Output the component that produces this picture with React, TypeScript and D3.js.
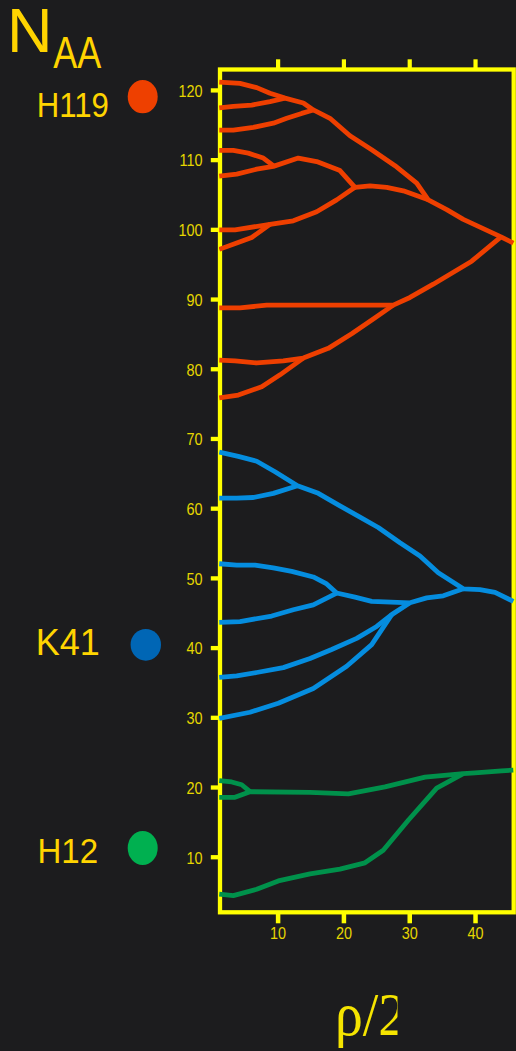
import React from 'react';
import * as d3 from 'd3';

type Pt = [number, number]; // [ρ/2, N_AA]

// H119 group branches
const h119A: Pt[] = [[1.06, 121.2], [4.21, 121.0], [6.75, 120.4], [8.77, 119.6], [11.05, 118.9], [13.83, 118.2], [15.35, 117.2], [17.88, 116.0], [20.92, 113.5], [24.22, 111.5], [27.76, 109.2], [31.06, 106.7], [32.82, 104.3], [35.62, 102.9], [38.14, 101.5], [43.87, 99.0], [45.74, 98.1]];
const h119B: Pt[] = [[1.06, 117.5], [3.19, 117.7], [5.99, 117.9], [8.77, 118.4], [11.05, 118.9]];
const h119C: Pt[] = [[1.06, 114.3], [3.19, 114.3], [6.23, 114.7], [9.27, 115.3], [11.31, 116.0], [13.58, 116.7], [15.35, 117.2]];
const h119D: Pt[] = [[1.06, 111.4], [3.19, 111.4], [5.47, 111.0], [7.75, 110.3], [9.27, 109.2]];
const h119E: Pt[] = [[1.06, 107.7], [3.71, 108.0], [6.75, 108.7], [9.27, 109.1], [13.07, 110.3], [15.86, 109.8], [19.4, 108.5], [21.68, 106.1], [23.96, 106.3], [26.5, 106.1], [29.02, 105.6], [32.82, 104.3]];
const h119F: Pt[] = [[1.06, 100.0], [3.45, 100.0], [8.77, 100.8], [12.31, 101.3], [15.86, 102.6], [18.9, 104.3], [21.68, 106.1]];
const h119G: Pt[] = [[1.06, 97.2], [3.71, 98.1], [5.99, 98.9], [8.77, 100.8]];
const h119H: Pt[] = [[1.06, 88.8], [4.21, 88.8], [8.27, 89.2], [20.42, 89.2], [27.5, 89.2], [30.04, 90.3], [33.58, 92.2], [39.42, 95.5], [43.87, 99.0]];
const h119I: Pt[] = [[1.06, 81.3], [3.45, 81.2], [6.75, 80.9], [10.79, 81.2], [13.83, 81.6], [17.63, 83.0], [21.18, 85.1], [24.46, 87.2], [27.5, 89.2]];
const h119J: Pt[] = [[1.06, 75.9], [3.95, 76.3], [7.51, 77.5], [10.29, 79.2], [13.83, 81.6]];

// K41 group branches
const k41A: Pt[] = [[1.06, 68.1], [3.95, 67.5], [6.75, 66.8], [9.53, 65.3], [12.95, 63.3], [16.11, 62.2], [19.4, 60.4], [22.44, 58.8], [25.22, 57.3], [28.52, 55.1], [31.56, 53.2], [34.34, 50.8], [38.14, 48.5], [40.68, 48.4], [42.96, 48.0], [45.74, 46.7]];
const k41B: Pt[] = [[1.06, 61.5], [3.71, 61.5], [6.23, 61.6], [9.27, 62.2], [12.95, 63.3]];
const k41C: Pt[] = [[1.06, 52.1], [3.71, 51.9], [6.49, 51.9], [9.27, 51.5], [12.07, 51.0], [15.35, 50.2], [17.38, 49.2], [18.9, 47.9], [21.68, 47.3], [24.22, 46.7], [30.04, 46.5], [32.58, 47.2], [35.1, 47.5], [38.14, 48.5]];
const k41D: Pt[] = [[1.06, 43.7], [4.21, 43.8], [9.03, 44.6], [12.31, 45.5], [15.35, 46.2], [18.9, 47.9]];
const k41E: Pt[] = [[1.06, 35.8], [3.71, 36.0], [6.75, 36.5], [10.79, 37.2], [14.85, 38.5], [18.14, 39.8], [21.94, 41.4], [24.98, 43.1], [27.26, 44.8], [30.04, 46.5]];
const k41F: Pt[] = [[1.06, 29.9], [5.73, 30.8], [10.03, 32.1], [15.35, 34.2], [20.42, 37.4], [24.22, 40.5], [27.26, 44.8]];

// H12 group branches
const h12A: Pt[] = [[1.06, 21.0], [2.95, 20.8], [4.47, 20.4], [5.73, 19.4]];
const h12B: Pt[] = [[1.06, 18.6], [3.45, 18.6], [5.73, 19.4], [14.85, 19.3], [20.67, 19.1], [26.24, 20.1], [32.32, 21.5], [38.14, 22.0], [39.92, 22.1], [43.97, 22.4], [45.74, 22.5]];
const h12C: Pt[] = [[1.06, 4.7], [3.19, 4.5], [6.75, 5.4], [10.03, 6.6], [14.85, 7.6], [19.4, 8.3], [23.2, 9.2], [25.98, 11.0], [29.78, 15.3], [34.1, 19.9], [38.14, 22.0]];

const h119Branches = [h119A, h119B, h119C, h119D, h119E, h119F, h119G, h119H, h119I, h119J];
const k41Branches = [k41A, k41B, k41C, k41D, k41E, k41F];
const h12Branches = [h12A, h12B, h12C];

const yTicks = [10, 20, 30, 40, 50, 60, 70, 80, 90, 100, 110, 120];
const xTicks = [10, 20, 30, 40];

const W = 516;
const H = 1051;
const frame = { left: 220, right: 513.7, top: 69.5, bottom: 912.3 };

const x = d3.scaleLinear().domain([1.17, 45.8]).range([frame.left, frame.right]);
const y = d3.scaleLinear().domain([2.1, 123]).range([frame.bottom, frame.top]);
const line = d3.line<Pt>().x((d) => x(d[0])).y((d) => y(d[1]));

const BG = '#1c1c1e';
const FRAME = '#ffff00';
const TICK_TEXT = '#e6d600';
const LABEL = '#ffd400';
const SANS = '"Liberation Sans", Arial, sans-serif';

const groups = [
  { branches: h119Branches, color: '#ee3f00' },
  { branches: k41Branches, color: '#058ddf' },
  { branches: h12Branches, color: '#00914b' },
];

const sites = [
  { name: 'H119', tx: 36.8, ty: 116.7, size: 35, sx: 0.89, cx: 142.7, cy: 96.7, rx: 15, ry: 16.6, color: '#ee4000' },
  { name: 'K41', tx: 35.7, ty: 655, size: 36, sx: 1.0, cx: 145.8, cy: 644.8, rx: 15.2, ry: 15.9, color: '#0066b5' },
  { name: 'H12', tx: 37.4, ty: 863, size: 36, sx: 0.92, cx: 142.7, cy: 848, rx: 15, ry: 17, color: '#00b050' },
];

export default function App() {
  return (
    <svg
      width={W}
      height={H}
      viewBox={`0 0 ${W} ${H}`}
      style={{ position: 'absolute', left: 0, top: 0, display: 'block' }}
    >
      <defs>
        <clipPath id="plotClip">
          <rect x={frame.left - 1} y={frame.top} width={W - frame.left + 1} height={frame.bottom - frame.top} />
        </clipPath>
        <clipPath id="rhoClip">
          <rect x={0} y={960} width={397.5} height={91} />
        </clipPath>
      </defs>
      <rect x={0} y={0} width={W} height={H} fill={BG} />

      {/* axis title */}
      <text x={7} y={51.7} fontFamily={SANS} fontSize={63} fill={LABEL}>N</text>
      <text transform="translate(53.3,68.3) scale(0.8,1)" fontFamily={SANS} fontSize={45} fill={LABEL}>AA</text>

      {/* site markers */}
      {sites.map((s) => (
        <g key={s.name}>
          <text transform={`translate(${s.tx},${s.ty}) scale(${s.sx},1)`} fontFamily={SANS} fontSize={s.size} fill={LABEL}>
            {s.name}
          </text>
          <ellipse cx={s.cx} cy={s.cy} rx={s.rx} ry={s.ry} fill={s.color} />
        </g>
      ))}

      {/* frame and ticks */}
      <rect
        x={frame.left}
        y={frame.top}
        width={frame.right - frame.left}
        height={frame.bottom - frame.top}
        fill="none"
        stroke={FRAME}
        strokeWidth={4.3}
      />
      {yTicks.map((t) => (
        <g key={`y${t}`}>
          <line x1={210.8} x2={frame.left} y1={y(t)} y2={y(t)} stroke={FRAME} strokeWidth={4.3} />
          <text
            transform={`translate(202.5,${y(t) + 6.3}) scale(0.85,1)`}
            textAnchor="end"
            fontFamily={SANS}
            fontSize={17}
            fill={TICK_TEXT}
          >
            {t}
          </text>
        </g>
      ))}
      {xTicks.map((t) => (
        <g key={`x${t}`}>
          <line x1={x(t)} x2={x(t)} y1={frame.bottom} y2={923.3} stroke={FRAME} strokeWidth={4.5} />
          <line x1={x(t)} x2={x(t)} y1={frame.top} y2={59.3} stroke={FRAME} strokeWidth={4.2} />
          <text
            transform={`translate(${x(t)},939.3) scale(0.85,1)`}
            textAnchor="middle"
            fontFamily={SANS}
            fontSize={17}
            fill={TICK_TEXT}
          >
            {t}
          </text>
        </g>
      ))}

      {/* branch trajectories */}
      <g clipPath="url(#plotClip)" fill="none" strokeWidth={4.8} strokeLinejoin="round" strokeLinecap="butt">
        {groups.map((g, gi) =>
          g.branches.map((b, bi) => <path key={`${gi}-${bi}`} d={line(b) ?? ''} stroke={g.color} />)
        )}
      </g>

      {/* x-axis title */}
      <g clipPath="url(#rhoClip)">
        <text
          transform="translate(335,1035) scale(0.9,1)"
          fontFamily='"Liberation Serif", "Times New Roman", serif'
          fontSize={62}
          fill="#f5e400"
        >
          ρ/2
        </text>
      </g>
    </svg>
  );
}
